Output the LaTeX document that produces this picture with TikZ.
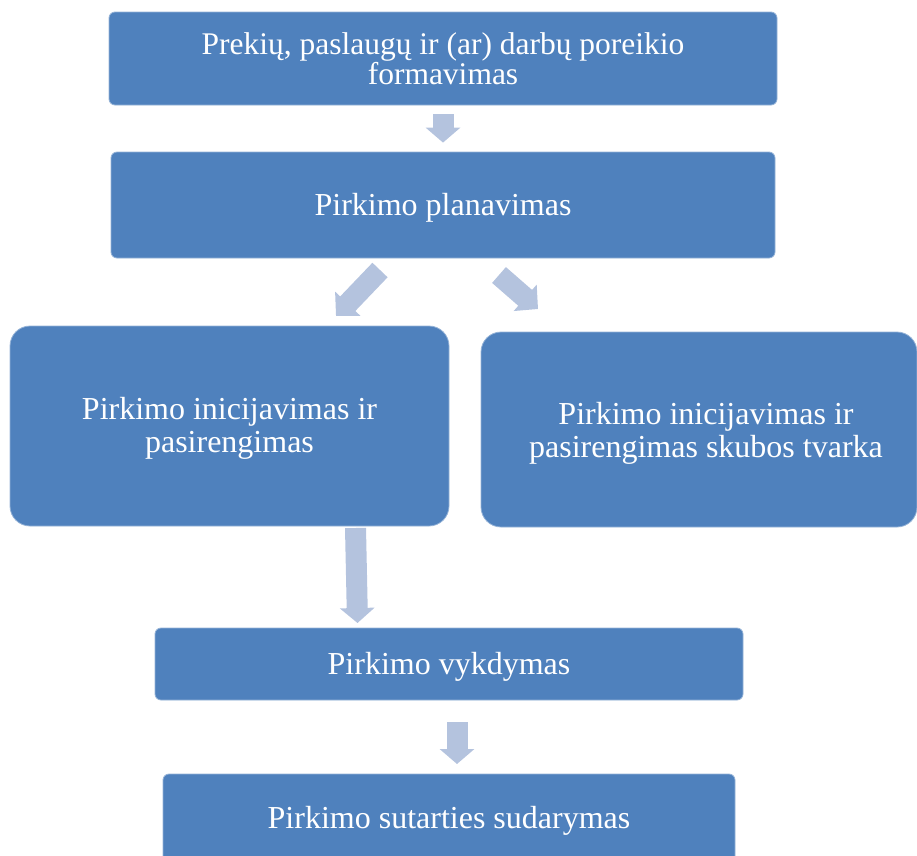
\documentclass[tikz,border=0pt]{standalone}
\usepackage{fontspec}
\setmainfont{Liberation Serif}
\usetikzlibrary{arrows.meta}
\definecolor{boxblue}{RGB}{79,129,189}
\definecolor{arrowblue}{RGB}{180,195,222}
\tikzset{
  x=1pt, y=1pt,
  stagebox/.style={fill=boxblue, draw=boxblue!60!white, line width=0.8pt, rounded corners=6pt,
     text=white, align=center, font=\fontsize{32}{33}\selectfont, inner sep=0pt},
  oneline/.style={text height=28pt, text depth=7pt},
  bigbox/.style={stagebox, rounded corners=20pt},
  blockarrow/.style={draw=arrowblue, line width=21pt,
     -{Triangle[width=34pt,length=15pt,fill=arrowblue]}},
  diagarrow/.style={draw=arrowblue, line width=21pt,
     -{Triangle[width=34pt,length=17pt,fill=arrowblue]}},
}
\begin{document}
\begin{tikzpicture}
\useasboundingbox (0,0) rectangle (917,-855);
\node[stagebox, minimum width=668pt, minimum height=93pt, font=\fontsize{31.5}{28}\selectfont] (n1) at (443,-58.5)
  {Prekių, paslaugų ir (ar) darbų poreikio\\formavimas};
\node[stagebox, oneline, minimum width=664pt, minimum height=106pt] (n2) at (443,-205)
  {Pirkimo planavimas};
\node[bigbox, minimum width=439pt, minimum height=200pt] (n3) at (229.5,-426) {};
\node[text=white, align=center, font=\fontsize{32}{33}\selectfont, inner sep=0pt] (n3t) at (229.5,-428)
  {Pirkimo inicijavimas ir\\pasirengimas};
\node[bigbox, minimum width=436pt, minimum height=195pt] (n4) at (699,-429.5) {};
\node[text=white, align=center, font=\fontsize{32}{33}\selectfont, inner sep=0pt] (n4t) at (706,-433)
  {Pirkimo inicijavimas ir\\pasirengimas skubos tvarka};
\node[stagebox, oneline, minimum width=588pt, minimum height=72pt] (n5) at (449,-664)
  {Pirkimo vykdymas};
\node[stagebox, oneline, minimum width=572pt, minimum height=88pt] (n6) at (449,-818)
  {Pirkimo sutarties sudarymas};

\coordinate (a2s) at (380,-270);
\coordinate (a2e) at (336,-316);
\coordinate (a3s) at (499,-275);
\coordinate (a3e) at (538,-309);
\coordinate (a4s) at (355.5,-528);
\coordinate (a4e) at (357.5,-623);
\coordinate (a5s) at (457,-722);
\coordinate (a5e) at (457,-764);

\draw[blockarrow] ([yshift=-9pt]n1.south) -- ([yshift=9pt]n2.north);
\draw[diagarrow] (a2s) -- (a2e);
\draw[diagarrow] (a3s) -- (a3e);
\draw[blockarrow] (a4s) -- (a4e);
\draw[blockarrow] (a5s) -- (a5e);
\end{tikzpicture}
\end{document}
